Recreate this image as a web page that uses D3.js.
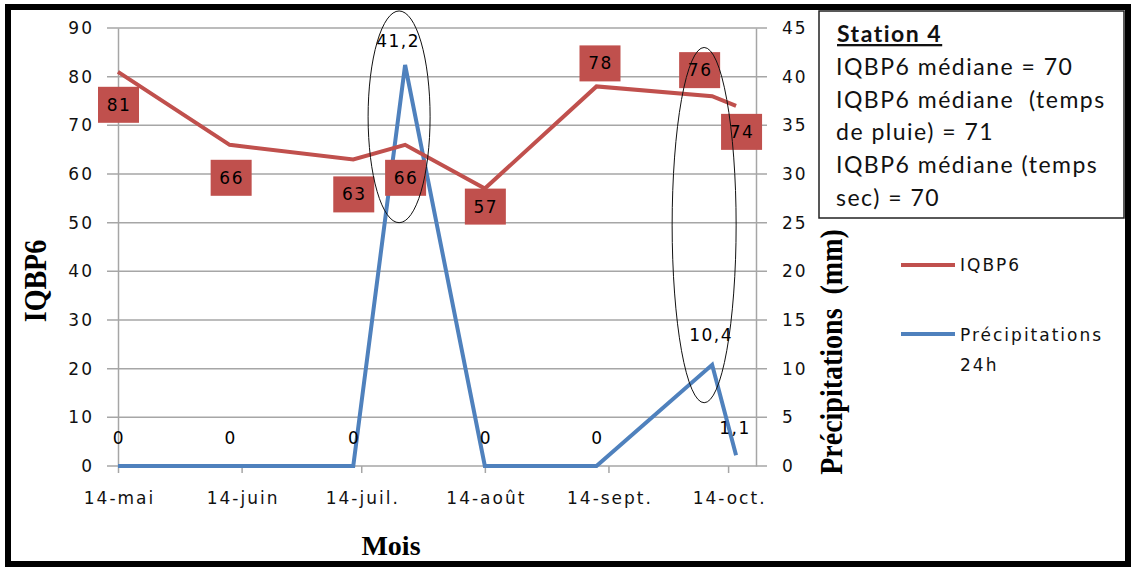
<!DOCTYPE html>
<html>
<head>
<meta charset="utf-8">
<script src="https://cdn.jsdelivr.net/npm/d3@7"></script>
<style>
  body { margin: 0; background: #fff; }
  svg { display: block; }
  .tick text { font-family: "DejaVu Sans", Verdana, sans-serif; font-size: 17px; letter-spacing: 2px; fill: #111; }
  .axis-title { font-family: "Liberation Serif", "DejaVu Serif", serif; font-weight: bold; font-size: 28px; fill: #000; }
  .box-text { font-family: Lato, "Open Sans", sans-serif; font-size: 23px; letter-spacing: 1.5px; fill: #111; }
  .legend-text { font-family: "DejaVu Sans", Verdana, sans-serif; font-size: 17px; letter-spacing: 2px; fill: #111; }
  .label { font-family: "DejaVu Sans", Verdana, sans-serif; font-size: 17px; letter-spacing: 1.5px; fill: #000; }
</style>
</head>
<body>
<div id="wrapper"></div>
<script>
// data
const dates = ["2014-05-14", "2014-06-11", "2014-07-12", "2014-07-25", "2014-08-14", "2014-09-11", "2014-10-10", "2014-10-16"]
const iqbp6 = [81, 66, 63, 66, 57, 78, 76, 74]
const precip = [0, 0, 0, 41.2, 0, 0, 10.4, 1.1]
const tickDates = ["2014-05-14", "2014-06-14", "2014-07-14", "2014-08-14", "2014-09-14", "2014-10-14"]
const tickLabels = ["14-mai", "14-juin", "14-juil.", "14-août", "14-sept.", "14-oct."]
const leftTicks = [0, 10, 20, 30, 40, 50, 60, 70, 80, 90]
const rightTicks = [0, 5, 10, 15, 20, 25, 30, 35, 40, 45]
const boxLines = ["IQBP6 médiane = 70", "IQBP6 médiane  (temps", "de pluie) = 71", "IQBP6 médiane (temps", "sec) = 70"]

function drawChart() {
  const parseDate = d3.utcParse("%Y-%m-%d")
  const dataset = dates.map((d, i) => ({
    date: parseDate(d),
    iqbp6: iqbp6[i],
    precip: precip[i],
  }))

  const xAccessor = d => d.date
  const yAccessor = d => d.iqbp6
  const y2Accessor = d => d.precip

  let dimensions = {
    width: 1134,
    height: 571,
    margin: {
      top: 28,
      right: 378,
      bottom: 105,
      left: 118,
    },
  }
  dimensions.boundedWidth = dimensions.width - dimensions.margin.left - dimensions.margin.right
  dimensions.boundedHeight = dimensions.height - dimensions.margin.top - dimensions.margin.bottom

  const red = "#c0504d"
  const blue = "#4f81bd"
  const grid = "#a6a6a6"

  const wrapper = d3.select("#wrapper")
    .append("svg")
      .attr("width", dimensions.width)
      .attr("height", dimensions.height)

  // outer frame
  wrapper.append("rect")
      .attr("x", 8)
      .attr("y", 7)
      .attr("width", 1120)
      .attr("height", 557)
      .attr("fill", "none")
      .attr("stroke", "#000")
      .attr("stroke-width", 6)

  const bounds = wrapper.append("g")
      .attr("transform", `translate(${dimensions.margin.left}, ${dimensions.margin.top})`)

  // scales
  const xScale = d3.scaleUtc()
    .domain([parseDate("2014-05-14"), parseDate("2014-10-21")])
    .range([0, dimensions.boundedWidth])

  const yScale = d3.scaleLinear()
    .domain([0, 90])
    .range([dimensions.boundedHeight, 0])

  const y2Scale = d3.scaleLinear()
    .domain([0, 45])
    .range([dimensions.boundedHeight, 0])

  // gridlines
  bounds.selectAll(".grid")
    .data(leftTicks)
    .enter().append("line")
      .attr("x1", -11)
      .attr("x2", dimensions.boundedWidth + 11)
      .attr("y1", d => yScale(d))
      .attr("y2", d => yScale(d))
      .attr("stroke", grid)
      .attr("stroke-width", 1.5)

  // axes
  const yAxis = bounds.append("g")
      .call(d3.axisLeft(yScale).tickValues(leftTicks).tickSize(0).tickPadding(24))
  yAxis.select(".domain").attr("stroke", grid).attr("stroke-width", 1.5)

  const y2Axis = bounds.append("g")
      .attr("transform", `translate(${dimensions.boundedWidth}, 0)`)
      .call(d3.axisRight(y2Scale).tickValues(rightTicks).tickSize(0).tickPadding(26))
  y2Axis.select(".domain").attr("stroke", grid).attr("stroke-width", 1.5)

  const xAxis = bounds.append("g")
      .attr("transform", `translate(0, ${dimensions.boundedHeight})`)
      .call(d3.axisBottom(xScale)
        .tickValues(tickDates.map(parseDate))
        .tickFormat((d, i) => tickLabels[i])
        .tickSize(7)
        .tickSizeOuter(0)
        .tickPadding(19))
  xAxis.select(".domain").remove()
  xAxis.selectAll(".tick line").attr("stroke", grid).attr("stroke-width", 1.5)
  xAxis.selectAll(".tick text").attr("dx", "1px")

  // axis titles
  wrapper.append("text")
      .attr("class", "axis-title")
      .attr("transform", "translate(46, 281) rotate(-90) scale(1, 1.12)")
      .attr("text-anchor", "middle")
      .text("IQBP6")

  wrapper.append("text")
      .attr("class", "axis-title")
      .attr("transform", "translate(842, 352) rotate(-90) scale(1, 1.12)")
      .attr("text-anchor", "middle")
      .text("Précipitations\u00a0\u00a0(mm)")

  wrapper.append("text")
      .attr("class", "axis-title")
      .attr("x", 391)
      .attr("y", 555)
      .attr("text-anchor", "middle")
      .text("Mois")

  // lines
  const lineIqbp = d3.line()
    .x(d => xScale(xAccessor(d)))
    .y(d => yScale(yAccessor(d)))

  const linePrecip = d3.line()
    .x(d => xScale(xAccessor(d)))
    .y(d => y2Scale(y2Accessor(d)))

  bounds.append("path")
      .datum(dataset)
      .attr("d", linePrecip)
      .attr("fill", "none")
      .attr("stroke", blue)
      .attr("stroke-width", 4)

  bounds.append("path")
      .datum(dataset)
      .attr("d", lineIqbp)
      .attr("fill", "none")
      .attr("stroke", red)
      .attr("stroke-width", 4)

  // precipitation labels
  const precipDx = [0, 0, 0, -8, 0, 0, -2, -2]
  const precipDy = [-28, -28, -28, -24, -28, -28, -30, -27]
  bounds.selectAll(".p-label")
    .data(dataset)
    .enter().append("text")
      .attr("class", "label")
      .attr("x", (d, i) => xScale(xAccessor(d)) + precipDx[i] + 1)
      .attr("y", (d, i) => y2Scale(y2Accessor(d)) + precipDy[i])
      .attr("text-anchor", "middle")
      .attr("dominant-baseline", "central")
      .text(d => String(y2Accessor(d)).replace(".", ","))

  // IQBP6 labels
  const labelDx = [0, 1, 0, 0, 0, 3, -13, 5]
  const labelDy = [33, 33, 35, 33, 18, -23, -26, 26]
  const labels = bounds.selectAll(".q-label")
    .data(dataset)
    .enter().append("g")
      .attr("transform", (d, i) => `translate(${xScale(xAccessor(d)) + labelDx[i]}, ${yScale(yAccessor(d)) + labelDy[i]})`)
  labels.append("rect")
      .attr("x", -20)
      .attr("y", -18)
      .attr("width", 41)
      .attr("height", 36)
      .attr("fill", red)
  labels.append("text")
      .attr("class", "label")
      .attr("x", 1)
      .attr("text-anchor", "middle")
      .attr("dominant-baseline", "central")
      .text(d => yAccessor(d))

  // annotation ellipses
  const ellipses = [
    { i: 3, dx: -6, lo: 50, hi: 93.5, rx: 31 },
    { i: 6, dx: -8, lo: 13, hi: 86, rx: 32 },
  ]
  bounds.selectAll(".ring")
    .data(ellipses)
    .enter().append("ellipse")
      .attr("cx", d => xScale(dataset[d.i].date) + d.dx)
      .attr("cy", d => (yScale(d.lo) + yScale(d.hi)) / 2)
      .attr("rx", d => d.rx)
      .attr("ry", d => (yScale(d.lo) - yScale(d.hi)) / 2)
      .attr("fill", "none")
      .attr("stroke", "#111")
      .attr("stroke-width", 1)

  // station box
  const box = wrapper.append("g")
  box.append("rect")
      .attr("x", 819)
      .attr("y", 11)
      .attr("width", 305)
      .attr("height", 207)
      .attr("fill", "#fff")
      .attr("stroke", "#222")
      .attr("stroke-width", 1.5)
  box.append("text")
      .attr("class", "box-text")
      .attr("x", 837)
      .attr("y", 42)
      .style("font-weight", "bold")
      .style("text-decoration", "underline")
      .text("Station 4")
  box.selectAll(".line")
    .data(boxLines)
    .enter().append("text")
      .attr("class", "box-text")
      .attr("x", 836)
      .attr("y", (d, i) => 75 + i * 32.7)
      .attr("xml:space", "preserve")
      .style("white-space", "pre")
      .text(d => d)

  // legend
  const legend = wrapper.append("g")
  legend.append("line")
      .attr("x1", 901).attr("x2", 955)
      .attr("y1", 265).attr("y2", 265)
      .attr("stroke", red).attr("stroke-width", 4)
  legend.append("text")
      .attr("class", "legend-text")
      .attr("x", 960).attr("y", 265)
      .attr("dominant-baseline", "central")
      .text("IQBP6")
  legend.append("line")
      .attr("x1", 901).attr("x2", 955)
      .attr("y1", 334).attr("y2", 334)
      .attr("stroke", blue).attr("stroke-width", 4)
  legend.append("text")
      .attr("class", "legend-text")
      .attr("x", 960).attr("y", 335)
      .attr("dominant-baseline", "central")
      .text("Précipitations")
  legend.append("text")
      .attr("class", "legend-text")
      .attr("x", 960).attr("y", 365)
      .attr("dominant-baseline", "central")
      .text("24h")
}
drawChart()
</script>
</body>
</html>
